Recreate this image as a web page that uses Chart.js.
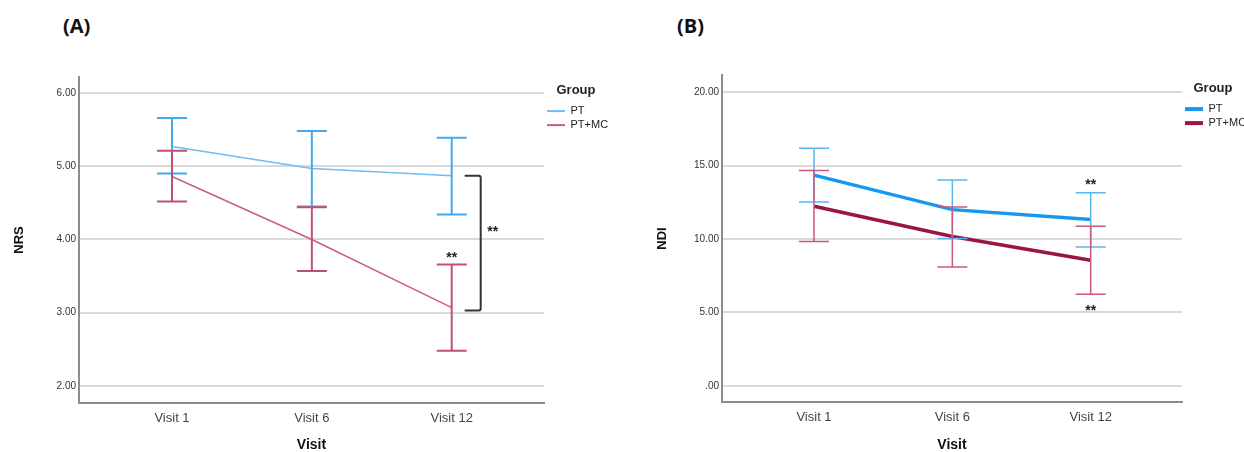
<!DOCTYPE html>
<html>
<head>
<meta charset="utf-8">
<script src="https://cdn.jsdelivr.net/npm/chart.js@4.4.0/dist/chart.umd.min.js"></script>
<style>
  body { margin: 0; background: #fff; width: 1244px; height: 452px; overflow: hidden; position: relative; }
  canvas { position: absolute; top: 0; }
  #chartA { left: 0; }
  #chartB { left: 622px; }
  .panel { position: absolute; top: 14px; font: bold 20px 'Open Sans', sans-serif; line-height: 24px; color: #111; }
</style>
</head>
<body>
<div class="panel" style="left:63px">(A)</div>
<div class="panel" style="left:677px">(B)</div>
<canvas id="chartA" width="622" height="452"></canvas>
<canvas id="chartB" width="622" height="452"></canvas>
<script>
// categorias y grupos
var visits = ['Visit 1', 'Visit 6', 'Visit 12'];
var groups = ['PT', 'PT+MC'];

// (A) NRS: medias e intervalos
var nrsPT = [5.27, 4.97, 4.87];
var nrsPTLow = [4.90, 4.45, 4.34];
var nrsPTHigh = [5.66, 5.48, 5.39];
var nrsMC = [4.86, 4.00, 3.07];
var nrsMCLow = [4.52, 3.57, 2.48];
var nrsMCHigh = [5.21, 4.44, 3.66];
var nrsTicks = [2, 3, 4, 5, 6];
var nrsTickLabels = ['2.00', '3.00', '4.00', '5.00', '6.00'];

// (B) NDI: medias e intervalos
var ndiPT = [14.35, 12.00, 11.32];
var ndiPTLow = [12.52, 10.03, 9.45];
var ndiPTHigh = [16.18, 14.01, 13.15];
var ndiMC = [12.23, 10.17, 8.56];
var ndiMCLow = [9.83, 8.09, 6.24];
var ndiMCHigh = [14.67, 12.18, 10.87];
var ndiTicks = [0, 5, 10, 15, 20];
var ndiTickLabels = ['.00', '5.00', '10.00', '15.00', '20.00'];

Chart.defaults.font.family = "'Liberation Sans', Arial, sans-serif";

function toPoints(arr) {
  return arr.map(function (v, i) { return { x: i, y: v }; });
}

// barras de error dibujadas con las escalas del grafico
function errorBars(bars, cap) {
  return {
    id: 'errorBars',
    afterDatasetsDraw: function (chart) {
      var ctx = chart.ctx, xs = chart.scales.x, ys = chart.scales.y;
      bars.forEach(function (b) {
        ctx.save();
        ctx.strokeStyle = b.color;
        ctx.lineWidth = b.width;
        b.low.forEach(function (lo, i) {
          var px = xs.getPixelForValue(i);
          var pl = ys.getPixelForValue(lo);
          var ph = ys.getPixelForValue(b.high[i]);
          ctx.beginPath();
          ctx.moveTo(px, pl); ctx.lineTo(px, ph);
          ctx.moveTo(px - cap, pl); ctx.lineTo(px + cap, pl);
          ctx.moveTo(px - cap, ph); ctx.lineTo(px + cap, ph);
          ctx.stroke();
        });
        ctx.restore();
      });
    }
  };
}

function stars(ctx, x, y) {
  ctx.save();
  ctx.fillStyle = '#222';
  ctx.font = "bold 14px 'Liberation Sans', Arial, sans-serif";
  ctx.textAlign = 'center';
  ctx.textBaseline = 'alphabetic';
  ctx.fillText('**', x, y + 8);
  ctx.restore();
}

// marcas de significancia
var signifA = {
  id: 'signifA',
  afterDraw: function (chart) {
    var ctx = chart.ctx, xs = chart.scales.x, ys = chart.scales.y;
    var px = xs.getPixelForValue(2);
    var top = ys.getPixelForValue(nrsPT[2]);
    var bottom = ys.getPixelForValue(nrsMC[2]) + 3;
    ctx.save();
    ctx.strokeStyle = '#333';
    ctx.lineWidth = 2;
    ctx.beginPath();
    ctx.moveTo(px + 13, top);
    ctx.lineTo(px + 27, top);
    ctx.quadraticCurveTo(px + 29, top, px + 29, top + 2);
    ctx.lineTo(px + 29, bottom - 2);
    ctx.quadraticCurveTo(px + 29, bottom, px + 27, bottom);
    ctx.lineTo(px + 13, bottom);
    ctx.stroke();
    ctx.restore();
    stars(ctx, px + 41, (top + bottom) / 2 - 15);
    stars(ctx, px, ys.getPixelForValue(nrsMCHigh[2]) - 10);
  }
};

var signifB = {
  id: 'signifB',
  afterDraw: function (chart) {
    var ctx = chart.ctx, xs = chart.scales.x, ys = chart.scales.y;
    var px = xs.getPixelForValue(2);
    stars(ctx, px, ys.getPixelForValue(ndiPTHigh[2]) - 12);
    stars(ctx, px, ys.getPixelForValue(ndiMCLow[2]) + 13);
  }
};

function makeChart(id, cfg) {
  var ctx = document.getElementById(id).getContext('2d');
  return new Chart(ctx, {
    type: 'line',
    data: {
      datasets: [{
        label: groups[0],
        data: toPoints(cfg.pt),
        borderColor: cfg.ptColor,
        backgroundColor: cfg.ptColor,
        borderWidth: cfg.lineWidth,
        pointRadius: 0,
        tension: 0
      }, {
        label: groups[1],
        data: toPoints(cfg.mc),
        borderColor: cfg.mcColor,
        backgroundColor: cfg.mcColor,
        borderWidth: cfg.lineWidth,
        pointRadius: 0,
        tension: 0
      }]
    },
    options: {
      responsive: false,
      animation: false,
      devicePixelRatio: 1,
      layout: { padding: { top: cfg.top, right: cfg.padRight, left: 0, bottom: 0 } },
      plugins: {
        tooltip: { enabled: false },
        legend: {
          position: 'right',
          align: 'start',
          maxWidth: cfg.legendWidth,
          title: {
            display: true, text: 'Group', color: '#222',
            font: { size: 13, weight: 'bold' },
            padding: { top: 7, bottom: 3 }
          },
          labels: {
            boxWidth: 18, boxHeight: cfg.legendBox, padding: 3,
            color: '#222', font: { size: 11 },
            generateLabels: function (chart) {
              return chart.data.datasets.map(function (ds, i) {
                return { text: ds.label, fillStyle: ds.borderColor, strokeStyle: ds.borderColor,
                  lineWidth: 0, hidden: false, datasetIndex: i, fontColor: '#222' };
              });
            }
          }
        }
      },
      scales: {
        x: {
          type: 'linear',
          min: -0.665, max: 2.66,
          afterBuildTicks: function (s) { s.ticks = visits.map(function (v, i) { return { value: i }; }); },
          afterFit: function (s) { s.height = cfg.xHeight; },
          ticks: {
            callback: function (v, i) { return visits[i]; },
            color: '#444', font: { size: 13 }, padding: 8, autoSkip: false, maxRotation: 0
          },
          grid: { display: false, drawTicks: false },
          border: { color: '#8c8c8c', width: 2 },
          title: {
            display: true, text: 'Visit', color: '#111',
            font: { size: 14, weight: 'bold', lineHeight: 1 },
            padding: { top: 0, bottom: 0 }
          }
        },
        y: {
          min: cfg.yMin, max: cfg.yMax,
          afterBuildTicks: function (s) { s.ticks = cfg.ticks.map(function (v) { return { value: v }; }); },
          afterFit: function (s) { s.width = cfg.yWidth; },
          ticks: {
            callback: function (v, i) { return cfg.tickLabels[i]; },
            color: '#333', font: { size: 10 }, padding: 3
          },
          grid: { color: '#d9d9d9', lineWidth: 2, drawTicks: false },
          border: { color: '#8c8c8c', width: 2 },
          title: {
            display: true, text: cfg.yTitle, color: '#111',
            font: { size: 13, weight: 'bold', lineHeight: 1 },
            padding: { top: cfg.yTitlePad, bottom: 0 }
          }
        }
      }
    },
    plugins: [errorBars(cfg.bars, 15), cfg.signif]
  });
}

makeChart('chartA', {
  pt: nrsPT, mc: nrsMC,
  ptColor: '#6fbcf3', mcColor: '#cc5c80', lineWidth: 1.5, legendBox: 2,
  top: 77, padRight: 14, legendWidth: 64, xHeight: 49, yWidth: 79,
  yMin: 1.768, yMax: 6.218, ticks: nrsTicks, tickLabels: nrsTickLabels,
  yTitle: 'NRS', yTitlePad: 12.5,
  bars: [
    { low: nrsPTLow, high: nrsPTHigh, color: '#45a8ee', width: 2 },
    { low: nrsMCLow, high: nrsMCHigh, color: '#c34e75', width: 2 }
  ],
  signif: signifA
});

makeChart('chartB', {
  pt: ndiPT, mc: ndiMC,
  ptColor: '#1597f2', mcColor: '#9a1449', lineWidth: 3.5, legendBox: 4,
  top: 75, padRight: 0, legendWidth: 62, xHeight: 50, yWidth: 100,
  yMin: -1.09, yMax: 21.16, ticks: ndiTicks, tickLabels: ndiTickLabels,
  yTitle: 'NDI', yTitlePad: 33.5,
  bars: [
    { low: ndiPTLow, high: ndiPTHigh, color: '#58b4f2', width: 1.5 },
    { low: ndiMCLow, high: ndiMCHigh, color: '#c65a80', width: 1.5 }
  ],
  signif: signifB
});
</script>
</body>
</html>
